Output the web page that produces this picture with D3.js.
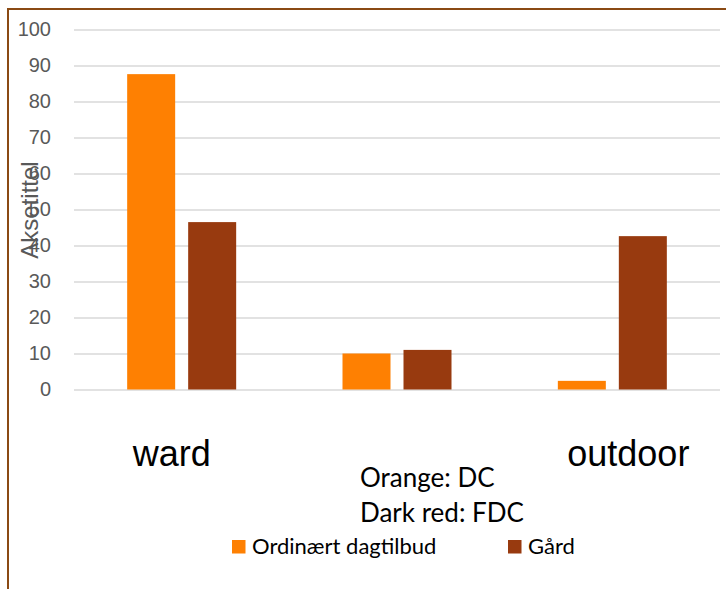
<!DOCTYPE html>
<html>
<head>
<meta charset="utf-8">
<script src="https://cdn.jsdelivr.net/npm/d3@7"></script>
<style>
  html, body { margin: 0; padding: 0; background: #fff; }
  svg { display: block; }
</style>
</head>
<body>
<svg id="chart" width="726" height="589"></svg>
<script>
// Categories and series
const categories = ["ward", "", "outdoor"];
const seriesNames = ["Ordinært dagtilbud", "Gård"];
const ordinaert = [87.6, 10.0, 2.4];
const gaard = [46.5, 11.0, 42.6];
const yTicks = [0, 10, 20, 30, 40, 50, 60, 70, 80, 90, 100];
const labelShift = [-10, 0, 16];
const notes = ["Orange: DC", "Dark red: FDC"];
const axisTitle = "Aksetittel";

const colors = ["#fe8002", "#983a0f"];
const svg = d3.select("#chart");

// Frame around the chart area
svg.append("rect")
  .attr("x", 8).attr("y", 9)
  .attr("width", 800).attr("height", 700)
  .attr("fill", "none")
  .attr("stroke", "#8a4a14")
  .attr("stroke-width", 2);

const plot = { left: 74, right: 720, top: 29.5, bottom: 389.5 };

const x0 = d3.scaleBand().domain(d3.range(categories.length))
  .range([plot.left, plot.right]).paddingInner(0).paddingOuter(0);
const x1 = d3.scaleBand().domain([0, 1])
  .range([0, 109]).paddingInner(13 / 61);
const groupOffset = (x0.bandwidth() - 109) / 2;
const y = d3.scaleLinear().domain([0, 100]).range([plot.bottom, plot.top]);

// Gridlines and tick labels
const yAxis = d3.axisLeft(y).tickValues(yTicks)
  .tickSize(-(plot.right - plot.left)).tickPadding(23);
const gy = svg.append("g").attr("transform", `translate(${plot.left},0)`).call(yAxis);
gy.select(".domain").remove();
gy.selectAll(".tick line").attr("stroke", "#d9d9d9").attr("stroke-width", 1.6);
gy.selectAll(".tick text")
  .attr("fill", "#595959")
  .style("font-family", "'Liberation Sans', Arial, sans-serif")
  .style("font-size", "20px");

// Bars
const series = [ordinaert, gaard];
series.forEach((vals, s) => {
  svg.append("g").selectAll("rect").data(vals).join("rect")
    .attr("x", (d, i) => x0(i) + groupOffset + x1(s))
    .attr("width", x1.bandwidth())
    .attr("y", d => y(d))
    .attr("height", d => y(0) - y(d))
    .attr("fill", colors[s]);
});

// Axis title
svg.append("text")
  .attr("transform", "translate(38,210) rotate(-90)")
  .attr("text-anchor", "middle")
  .attr("fill", "#595959")
  .style("font-family", "'Liberation Sans', Arial, sans-serif")
  .style("font-size", "24px")
  .text(axisTitle);

// Category labels
svg.append("g").selectAll("text").data(categories).join("text")
  .attr("x", (d, i) => x0(i) + x0.bandwidth() / 2 + labelShift[i])
  .attr("y", 466)
  .attr("text-anchor", "middle")
  .attr("fill", "#000")
  .style("font-family", "'Liberation Sans', Arial, sans-serif")
  .style("font-size", "36px")
  .text(d => d);

// Notes
svg.append("g").selectAll("text").data(notes).join("text")
  .attr("x", 360)
  .attr("y", (d, i) => 487 + i * 35)
  .attr("fill", "#000")
  .style("font-family", "Lato, 'Open Sans', sans-serif")
  .style("font-size", "26px")
  .text(d => d);

// Legend
const legendX = [232, 508];
const lg = svg.append("g").selectAll("g").data(seriesNames).join("g")
  .attr("transform", (d, i) => `translate(${legendX[i]},540)`);
lg.append("rect").attr("width", 13.5).attr("height", 13.5)
  .attr("fill", (d, i) => colors[i]);
lg.append("text")
  .attr("x", 20).attr("y", 14)
  .attr("fill", "#000")
  .style("font-family", "Lato, 'Open Sans', sans-serif")
  .style("font-size", "22px")
  .text(d => d);
</script>
</body>
</html>
